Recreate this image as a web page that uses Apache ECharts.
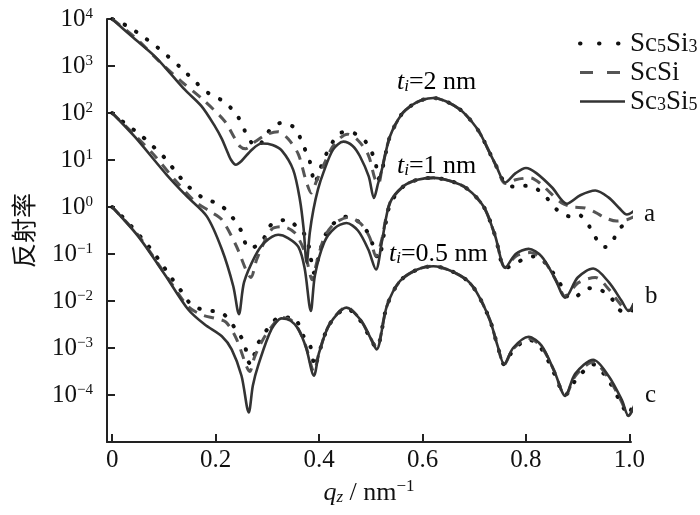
<!DOCTYPE html>
<html>
<head>
<meta charset="utf-8">
<script src="https://cdn.jsdelivr.net/npm/echarts@6/dist/echarts.min.js"></script>
<style>html,body{margin:0;padding:0;background:#fff}#c{width:700px;height:515px}</style>
</head>
<body>
<div id="c"></div>
<script>
// values: [q_z (nm^-1), log10(reflectivity)]
var aSc5Si3 = [[0,4.00],[0.031,3.84],[0.06,3.62],[0.086,3.41],[0.137,2.92],[0.16,2.67],[0.189,2.40],[0.215,2.25],[0.241,1.96],[0.257,1.61],[0.273,1.32],[0.283,1.30],[0.295,1.5],[0.312,1.72],[0.328,1.79],[0.353,1.68],[0.369,1.32],[0.382,0.97],[0.392,0.5],[0.40,0.75],[0.415,1.15],[0.44,1.57],[0.46,1.6],[0.478,1.5],[0.492,1.36],[0.508,1.0],[0.515,0.6],[0.522,0.8],[0.537,1.5],[0.56,1.98],[0.58,2.17],[0.60,2.28],[0.621,2.32],[0.645,2.25],[0.673,2.07],[0.695,1.82],[0.711,1.57],[0.73,1.15],[0.743,0.86],[0.76,0.5],[0.779,0.43],[0.795,0.45],[0.811,0.44],[0.837,0.23],[0.86,-0.06],[0.885,-0.2],[0.901,-0.16],[0.912,-0.25],[0.924,-0.44],[0.943,-0.8],[0.953,-0.85],[0.963,-0.8],[0.98,-0.48],[1.0,-0.25]];
var aScSi = [[0,4.00],[0.047,3.58],[0.089,3.12],[0.134,2.67],[0.176,2.28],[0.218,1.82],[0.235,1.5],[0.247,1.29],[0.258,1.24],[0.275,1.38],[0.30,1.55],[0.321,1.6],[0.34,1.45],[0.36,1.12],[0.375,0.55],[0.385,0.3],[0.395,0.55],[0.41,0.92],[0.43,1.35],[0.455,1.55],[0.475,1.42],[0.495,1.11],[0.508,0.6],[0.515,0.5],[0.521,0.78],[0.537,1.5],[0.56,1.98],[0.58,2.17],[0.60,2.28],[0.621,2.32],[0.645,2.25],[0.673,2.07],[0.695,1.82],[0.711,1.57],[0.73,1.15],[0.743,0.86],[0.76,0.5],[0.78,0.58],[0.808,0.62],[0.83,0.48],[0.847,0.30],[0.87,0.08],[0.89,0.0],[0.914,-0.02],[0.935,-0.12],[0.953,-0.23],[0.975,-0.3],[0.995,-0.27],[1.01,-0.2]];
var aSc3Si5 = [[0,4.00],[0.04,3.61],[0.083,3.20],[0.112,2.85],[0.141,2.49],[0.173,2.14],[0.199,1.71],[0.212,1.45],[0.221,1.22],[0.23,1.0],[0.239,0.90],[0.25,0.98],[0.27,1.22],[0.289,1.35],[0.31,1.32],[0.328,1.20],[0.35,0.79],[0.363,0.15],[0.37,-0.45],[0.376,-1.19],[0.382,-0.55],[0.389,-0.06],[0.398,0.38],[0.408,0.72],[0.427,1.22],[0.447,1.39],[0.465,1.30],[0.479,1.08],[0.496,0.65],[0.506,0.19],[0.514,0.5],[0.521,0.78],[0.537,1.5],[0.56,1.98],[0.58,2.17],[0.60,2.28],[0.621,2.32],[0.645,2.25],[0.673,2.07],[0.695,1.82],[0.711,1.57],[0.73,1.15],[0.743,0.86],[0.76,0.52],[0.78,0.72],[0.80,0.83],[0.82,0.72],[0.85,0.42],[0.879,0.07],[0.905,0.25],[0.934,0.35],[0.96,0.2],[0.98,-0.02],[0.995,-0.16],[1.016,-0.02]];

var bSc5Si3 = [[0,2.00],[0.028,1.75],[0.054,1.54],[0.079,1.29],[0.102,1.04],[0.125,0.72],[0.147,0.44],[0.176,0.19],[0.208,0.05],[0.231,-0.2],[0.25,-0.52],[0.263,-0.87],[0.275,-0.85],[0.292,-0.69],[0.308,-0.37],[0.34,-0.27],[0.355,-0.4],[0.37,-0.55],[0.38,-0.83],[0.386,-1.22],[0.39,-1.4],[0.398,-1.1],[0.412,-0.6],[0.435,-0.28],[0.457,-0.2],[0.48,-0.35],[0.498,-0.62],[0.508,-0.97],[0.515,-1.1],[0.525,-0.6],[0.537,0.05],[0.563,0.44],[0.59,0.58],[0.621,0.62],[0.655,0.55],[0.685,0.4],[0.718,0.01],[0.74,-0.6],[0.76,-1.3],[0.782,-1.19],[0.80,-1.08],[0.818,-1.05],[0.84,-1.22],[0.87,-1.7],[0.885,-1.95],[0.898,-1.9],[0.915,-1.75],[0.934,-1.72],[0.95,-1.8],[0.963,-1.9],[0.979,-2.18],[1.0,-2.25],[1.01,-2.1]];
var bScSi = [[0,2.00],[0.044,1.53],[0.083,1.08],[0.121,0.58],[0.16,0.12],[0.19,-0.1],[0.212,-0.27],[0.24,-0.83],[0.26,-1.37],[0.268,-1.5],[0.28,-1.1],[0.308,-0.48],[0.33,-0.42],[0.353,-0.55],[0.372,-0.95],[0.387,-1.55],[0.395,-1.2],[0.41,-0.65],[0.43,-0.35],[0.457,-0.22],[0.48,-0.35],[0.498,-0.65],[0.51,-1.05],[0.52,-0.75],[0.537,0.09],[0.563,0.44],[0.59,0.58],[0.621,0.62],[0.655,0.55],[0.685,0.4],[0.718,0.01],[0.74,-0.6],[0.76,-1.29],[0.78,-1.05],[0.808,-0.97],[0.835,-1.15],[0.86,-1.6],[0.876,-1.9],[0.90,-1.62],[0.934,-1.5],[0.96,-1.75],[0.985,-2.1],[1.0,-2.2],[1.01,-2.0]];
var bSc3Si5 = [[0,2.00],[0.044,1.49],[0.105,0.69],[0.144,0.23],[0.183,-0.2],[0.212,-0.9],[0.234,-1.68],[0.245,-2.28],[0.255,-1.6],[0.276,-1.05],[0.294,-0.76],[0.321,-0.59],[0.34,-0.66],[0.36,-0.85],[0.372,-1.3],[0.384,-2.21],[0.392,-1.45],[0.41,-0.75],[0.43,-0.45],[0.453,-0.34],[0.475,-0.5],[0.495,-0.9],[0.51,-1.33],[0.522,-0.7],[0.537,0.09],[0.563,0.44],[0.59,0.58],[0.621,0.62],[0.655,0.55],[0.685,0.40],[0.718,0.01],[0.74,-0.6],[0.76,-1.29],[0.78,-1.0],[0.805,-0.89],[0.83,-1.05],[0.855,-1.5],[0.876,-1.93],[0.90,-1.5],[0.93,-1.31],[0.96,-1.6],[0.985,-2.0],[0.998,-2.21],[1.014,-1.93]];

var cSc5Si3 = [[0,0.00],[0.028,-0.3],[0.073,-0.87],[0.092,-1.15],[0.112,-1.47],[0.131,-1.75],[0.155,-2.1],[0.183,-2.2],[0.212,-2.25],[0.237,-2.57],[0.255,-2.89],[0.263,-3.28],[0.268,-3.35],[0.28,-2.95],[0.30,-2.6],[0.324,-2.35],[0.35,-2.35],[0.37,-2.75],[0.383,-2.96],[0.392,-3.4],[0.40,-3.1],[0.42,-2.5],[0.453,-2.16],[0.48,-2.42],[0.50,-2.82],[0.511,-3.0],[0.531,-2.11],[0.556,-1.58],[0.59,-1.33],[0.621,-1.26],[0.653,-1.35],[0.685,-1.55],[0.705,-1.82],[0.73,-2.4],[0.745,-2.95],[0.758,-3.35],[0.775,-3.05],[0.805,-2.82],[0.83,-3.02],[0.855,-3.55],[0.876,-4.0],[0.895,-3.7],[0.93,-3.35],[0.96,-3.7],[0.985,-4.2],[0.998,-4.42],[1.005,-4.25]];
var cScSi = [[0,0.00],[0.05,-0.6],[0.102,-1.42],[0.147,-2.12],[0.175,-2.3],[0.2,-2.37],[0.22,-2.45],[0.24,-2.8],[0.26,-3.4],[0.266,-3.5],[0.275,-3.2],[0.29,-2.85],[0.308,-2.55],[0.328,-2.35],[0.345,-2.4],[0.36,-2.6],[0.375,-2.98],[0.39,-3.5],[0.40,-3.1],[0.42,-2.5],[0.453,-2.13],[0.48,-2.4],[0.50,-2.8],[0.511,-3.0],[0.531,-2.11],[0.556,-1.58],[0.59,-1.33],[0.621,-1.26],[0.653,-1.35],[0.685,-1.55],[0.705,-1.82],[0.73,-2.4],[0.745,-2.95],[0.758,-3.35],[0.775,-3.02],[0.805,-2.8],[0.83,-2.98],[0.855,-3.5],[0.876,-4.02],[0.895,-3.6],[0.93,-3.3],[0.96,-3.65],[0.985,-4.15],[0.998,-4.44],[1.017,-4.0]];
var cSc3Si5 = [[0,0.00],[0.05,-0.62],[0.102,-1.44],[0.147,-2.18],[0.179,-2.5],[0.212,-2.75],[0.231,-3.03],[0.25,-3.59],[0.264,-4.37],[0.272,-3.8],[0.282,-3.38],[0.308,-2.6],[0.328,-2.37],[0.345,-2.42],[0.36,-2.6],[0.375,-3.0],[0.39,-3.59],[0.40,-3.1],[0.42,-2.5],[0.453,-2.14],[0.48,-2.4],[0.50,-2.8],[0.511,-3.03],[0.531,-2.11],[0.556,-1.58],[0.59,-1.33],[0.621,-1.26],[0.653,-1.35],[0.685,-1.55],[0.705,-1.82],[0.73,-2.4],[0.745,-2.95],[0.758,-3.35],[0.775,-3.0],[0.805,-2.76],[0.83,-2.95],[0.855,-3.5],[0.876,-4.02],[0.895,-3.55],[0.93,-3.25],[0.96,-3.6],[0.985,-4.1],[0.998,-4.44],[1.017,-3.98]];

var xTicks = [0, 0.2, 0.4, 0.6, 0.8, 1.0];
var yExponents = [-4, -3, -2, -1, 0, 1, 2, 3, 4];
var legendNames = ['Sc5Si3', 'ScSi', 'Sc3Si5'];
var legendRich = {'Sc5Si3': 'Sc{sub|5}Si{sub|3}', 'ScSi': 'ScSi', 'Sc3Si5': 'Sc{sub|3}Si{sub|5}'};
var groupLabels = ['a', 'b', 'c'];
var thicknessLabels = ['2', '1', '0.5'];

var SERIF = '"Liberation Serif","DejaVu Serif",serif';
var styles = {
  'Sc5Si3': {color: '#111', width: 4, type: [0.5, 13], cap: 'round', legendType: [0.5, 18.5]},
  'ScSi':   {color: '#555', width: 3, type: [10, 8], cap: 'butt', legendType: [13, 14]},
  'Sc3Si5': {color: '#333', width: 2.6, type: 'solid', cap: 'butt', legendType: 'solid'}
};
var groups = [
  {'Sc5Si3': aSc5Si3, 'ScSi': aScSi, 'Sc3Si5': aSc3Si5},
  {'Sc5Si3': bSc5Si3, 'ScSi': bScSi, 'Sc3Si5': bSc3Si5},
  {'Sc5Si3': cSc5Si3, 'ScSi': cScSi, 'Sc3Si5': cSc3Si5}
];
var series = [];
legendNames.forEach(function (nm) {
  groups.forEach(function (g) {
    var s = styles[nm];
    series.push({
      type: 'line', name: nm, data: g[nm], showSymbol: false, symbol: 'none',
      smooth: 0.3, clip: false, animation: false,
      lineStyle: {color: s.color, width: s.width, type: s.type, cap: s.cap},
      itemStyle: {color: s.color}
    });
  });
});
var legendData = legendNames.map(function (nm) {
  var s = styles[nm];
  return {name: nm, lineStyle: {type: s.legendType, width: s.width, color: s.color, cap: s.cap}};
});

var chart = echarts.init(document.getElementById('c'), null, {renderer: 'canvas'});
var subRich = {
  it: {fontFamily: SERIF, fontStyle: 'italic', fontSize: 26, lineHeight: 26, color: '#111'},
  isub: {fontFamily: SERIF, fontStyle: 'italic', fontSize: 17, lineHeight: 17, padding: [9, 0, 0, 0], color: '#111'},
  n: {fontFamily: SERIF, fontSize: 26, lineHeight: 26, color: '#111'}
};
var graphics = [];
var tPos = [[397, 82], [397, 166], [389, 254]];
thicknessLabels.forEach(function (t, i) {
  graphics.push({type: 'text', x: tPos[i][0], y: tPos[i][1], z: 100,
    style: {text: '{it|t}{isub|i}{n|=' + t + ' nm}', rich: subRich, verticalAlign: 'middle', align: 'left'}});
});
var gPos = [[644, 214], [645, 296], [645, 395]];
groupLabels.forEach(function (t, i) {
  graphics.push({type: 'text', x: gPos[i][0], y: gPos[i][1], z: 100,
    style: {text: t, fontFamily: SERIF, fontSize: 25, fill: '#111', verticalAlign: 'middle', align: 'left'}});
});

chart.setOption({
  backgroundColor: '#fff',
  animation: false,
  grid: {left: 107, right: 69, top: 19, bottom: 73, containLabel: false, outerBoundsMode: 'none'},
  legend: {
    data: legendData, orient: 'vertical', left: 573, top: 25, itemWidth: 45, itemHeight: 14, itemGap: 2,
    selectedMode: false,
    itemStyle: {color: 'rgba(0,0,0,0)', borderColor: 'rgba(0,0,0,0)', borderWidth: 0, opacity: 0},
    formatter: function (n) { return legendRich[n]; },
    textStyle: {fontFamily: SERIF, fontSize: 27, lineHeight: 25, color: '#111',
      rich: {sub: {fontFamily: SERIF, fontSize: 18, lineHeight: 17, padding: [8, 0, 0, 0], color: '#111'}}}
  },
  xAxis: {
    type: 'value', min: -0.01, max: 1.003,
    name: '{i|q}{s|z}{n| / nm}{p|−1}', nameLocation: 'middle', nameGap: 34,
    nameTextStyle: {rich: {
      i: {fontFamily: SERIF, fontStyle: 'italic', fontSize: 26, lineHeight: 26, color: '#111'},
      s: {fontFamily: SERIF, fontStyle: 'italic', fontSize: 17, lineHeight: 17, padding: [9, 0, 0, 0], color: '#111'},
      n: {fontFamily: SERIF, fontSize: 26, lineHeight: 26, color: '#111'},
      p: {fontFamily: SERIF, fontSize: 17, lineHeight: 17, padding: [0, 0, 14, 0], color: '#111'}
    }},
    axisLine: {show: true, onZero: false, lineStyle: {color: '#222', width: 2}},
    axisTick: {show: true, inside: true, length: 8, lineStyle: {color: '#222', width: 2}, customValues: xTicks},
    axisLabel: {show: true, margin: 6, fontFamily: SERIF, fontSize: 25, color: '#111', customValues: xTicks,
      formatter: function (v) { return v === 0 ? '0' : v.toFixed(1); }},
    splitLine: {show: false}
  },
  yAxis: {
    type: 'value', min: -5, max: 4, interval: 1,
    name: '反射率', nameLocation: 'middle', nameGap: 71, nameRotate: 90,
    nameTextStyle: {fontFamily: '"Noto Sans CJK SC"', fontSize: 25, color: '#111'},
    axisLine: {show: true, onZero: false, lineStyle: {color: '#222', width: 2}},
    axisTick: {show: true, inside: true, length: 8, lineStyle: {color: '#222', width: 2}, customValues: yExponents},
    axisLabel: {show: true, margin: 14, customValues: yExponents,
      formatter: function (v) { return '{b|10}{s|' + (v < 0 ? '−' + (-v) : v) + '}'; },
      rich: {
        b: {fontFamily: SERIF, fontSize: 25, lineHeight: 25, color: '#111'},
        s: {fontFamily: SERIF, fontSize: 15, lineHeight: 15, padding: [0, 0, 10, 0], color: '#111'}
      }},
    splitLine: {show: false}
  },
  graphic: graphics,
  series: series
});
</script>
</body>
</html>
